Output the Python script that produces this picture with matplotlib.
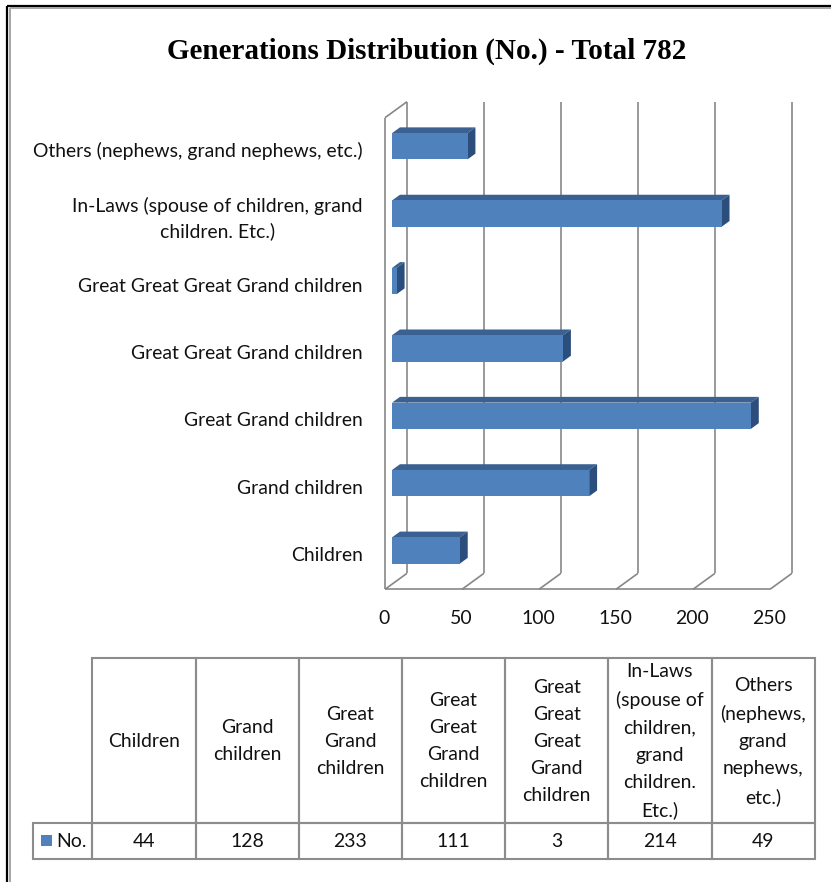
import matplotlib
matplotlib.use("Agg")
import matplotlib.pyplot as plt
from matplotlib.patches import Polygon, Rectangle

# ---------------- data ----------------
title = "Generations Distribution (No.) - Total 782"
categories = [
    "Children",
    "Grand children",
    "Great Grand children",
    "Great Great Grand children",
    "Great Great Great Grand children",
    "In-Laws (spouse of children, grand\nchildren. Etc.)",
    "Others (nephews, grand nephews, etc.)",
]
table_headers = [
    "Children",
    "Grand\nchildren",
    "Great\nGrand\nchildren",
    "Great\nGreat\nGrand\nchildren",
    "Great\nGreat\nGreat\nGrand\nchildren",
    "In-Laws\n(spouse of\nchildren,\ngrand\nchildren.\nEtc.)",
    "Others\n(nephews,\ngrand\nnephews,\netc.)",
]
values = [44, 128, 233, 111, 3, 214, 49]
series_name = "No."
x_ticks = [0, 50, 100, 150, 200, 250]

# ---------------- style ----------------
W, H = 831, 882
FONT = "Lato"
BLUE = "#4F81BD"
TOP = "#3A6192"
SIDE = "#2C4E7C"
GRID = "#878787"
TBL = "#8C8C8C"
TXT = "#111111"

fig = plt.figure(figsize=(W / 100, H / 100), dpi=100)
fig.patch.set_facecolor("white")
renderer = fig.canvas.get_renderer()


def fit_size(text, family, target_px, weight="normal"):
    t = fig.text(0, 0, text, fontsize=10, family=family, weight=weight)
    w = t.get_window_extent(renderer).width
    t.remove()
    return 10 * target_px / w


FS = fit_size("Others (nephews, grand nephews, etc.)", FONT, 331)
TS = fit_size(title, "Liberation Serif", 521, weight="bold")

# overlay axes in pixel coordinates
ov = fig.add_axes([0, 0, 1, 1])
ov.set_xlim(0, W)
ov.set_ylim(H, 0)
ov.axis("off")

# outer frame
ov.plot([7, 7], [6, H], color="black", lw=1.6, solid_capstyle="butt")
ov.plot([7, W], [6, 6], color="black", lw=1.6, solid_capstyle="butt")
ov.plot([9.6, 9.6], [8.4, H], color="#A6A6A6", lw=1.4, solid_capstyle="butt")
ov.plot([9.6, W], [8.4, 8.4], color="#A6A6A6", lw=1.4, solid_capstyle="butt")

# title
fig.text(427 / W, 1 - 51 / H, title, ha="center", va="center",
         family="Liberation Serif", weight="bold", fontsize=TS)

# ---------------- 3D bar chart ----------------
ax = fig.add_axes([385 / W, 1 - 589.3 / H, 385 / W, 471.6 / H])
ax.set_xlim(0, 250)
ax.set_ylim(-0.5, len(categories) - 0.5)
ax.axis("off")
ax.patch.set_visible(False)

ux = 250 / 385.0
uy = len(categories) / 471.6
Dx, Dy = 22 * ux, 16 * uy
f1, f2 = 0.32, 0.68
bh = 0.195
y0, y1 = -0.5, len(categories) - 0.5

kw = dict(color=GRID, lw=1.2, clip_on=False, solid_capstyle="butt")
for t in x_ticks:
    ax.plot([t + Dx, t + Dx], [y0 + Dy, y1 + Dy], **kw)
    ax.plot([t, t + Dx], [y0, y0 + Dy], **kw)
ax.plot([0, x_ticks[-1]], [y0, y0], **kw)
ax.plot([0, 0], [y0, y1], **kw)
ax.plot([0, Dx], [y1, y1 + Dy], **kw)

for i, v in enumerate(values):
    a1x, a1y = f1 * Dx, f1 * Dy
    a2x, a2y = f2 * Dx, f2 * Dy
    lo, hi = i - bh, i + bh
    front = [(a1x, lo + a1y), (v + a1x, lo + a1y), (v + a1x, hi + a1y), (a1x, hi + a1y)]
    top = [(a1x, hi + a1y), (v + a1x, hi + a1y), (v + a2x, hi + a2y), (a2x, hi + a2y)]
    side = [(v + a1x, lo + a1y), (v + a2x, lo + a2y), (v + a2x, hi + a2y), (v + a1x, hi + a1y)]
    ax.add_patch(Polygon(top, closed=True, fc=TOP, ec="none", clip_on=False, zorder=3))
    ax.add_patch(Polygon(side, closed=True, fc=SIDE, ec="none", clip_on=False, zorder=3))
    ax.add_patch(Polygon(front, closed=True, fc=BLUE, ec="none", clip_on=False, zorder=4))

for i, c in enumerate(categories):
    ax.annotate(c, (0, i), xytext=(-22, 0), textcoords="offset pixels",
                ha="right", va="center", multialignment="center",
                family=FONT, fontsize=FS, color=TXT, linespacing=1.5,
                annotation_clip=False)

for t in x_ticks:
    ax.annotate(str(t), (t, y0), xytext=(-1, -29), textcoords="offset pixels",
                ha="center", va="center", family=FONT, fontsize=FS,
                color=TXT, annotation_clip=False)

# ---------------- data table ----------------
tx0, cw = 92.3, 103.2
ht, rt, rb = 658, 822.7, 859
rhx = 32.7
tkw = dict(fill=False, ec=TBL, lw=1.5)
for j, (hdr, v) in enumerate(zip(table_headers, values)):
    x = tx0 + j * cw
    ov.add_patch(Rectangle((x, ht), cw, rt - ht, **tkw))
    ov.add_patch(Rectangle((x, rt), cw, rb - rt, **tkw))
    ov.text(x + cw / 2, (ht + rt) / 2 + 1, hdr, ha="center", va="center",
            multialignment="center", family=FONT, fontsize=FS,
            color=TXT, linespacing=1.72)
    ov.text(x + cw / 2, (rt + rb) / 2 + 1, str(v), ha="center", va="center",
            family=FONT, fontsize=FS, color=TXT)
ov.add_patch(Rectangle((rhx, rt), tx0 - rhx, rb - rt, **tkw))
ov.add_patch(Rectangle((41, (rt + rb) / 2 - 5.5), 11, 11, fc=BLUE, ec="none"))
ov.text(56, (rt + rb) / 2 + 1, series_name, ha="left", va="center",
        family=FONT, fontsize=FS, color=TXT)

fig.savefig("out.png", dpi=100)
